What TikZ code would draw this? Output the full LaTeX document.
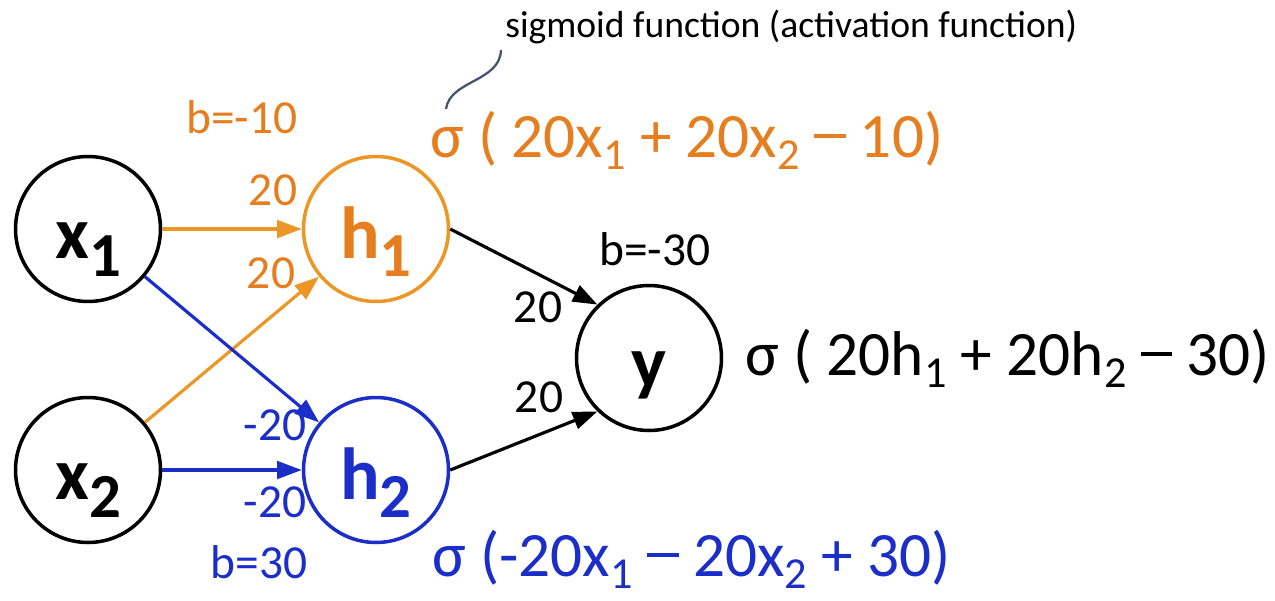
\documentclass[tikz,border=0pt]{standalone}
\usepackage{fontspec}
\usepackage{graphicx}
\usepackage{xcolor}
\usetikzlibrary{arrows.meta}
\setmainfont{Carlito}

\definecolor{hidorange}{RGB}{236,150,38}
\definecolor{txtorange}{RGB}{230,125,30}
\definecolor{hidblue}{RGB}{28,46,200}
\definecolor{noteslate}{RGB}{68,84,106}

\newcommand{\lowidx}[1]{\raisebox{-0.2em}{\scalebox{0.7}{#1}}}
\newcommand{\nodeidx}[1]{\raisebox{-0.24em}{\scalebox{0.85}{#1}}}
\newcommand{\dashop}{\raisebox{0.3em}{\rule{0.5em}{0.065em}}}

\begin{document}
\begin{tikzpicture}[x=0.02cm, y=-0.02cm,
  neuron/.style={circle, draw, line width=2pt, minimum size=2.9cm, inner sep=0pt,
    text height=44pt, text depth=10pt,
    font=\fontsize{42}{44}\selectfont\bfseries},
  weight/.style={anchor=base, inner sep=0pt, font=\fontsize{27}{30}\selectfont},
  formula/.style={anchor=base west, inner sep=0pt, font=\fontsize{36}{40}\selectfont},
  link/.style={line width=1.8pt, -{Triangle[length=14pt,width=10pt]}}]
  \useasboundingbox (0,0) rectangle (1275,600);

  % neurons
  \node[neuron] (x1) at (88,229) {x\nodeidx{1}};
  \node[neuron] (x2) at (88,470) {x\nodeidx{2}};
  \node[neuron, draw=hidorange, text=txtorange] (h1) at (376,229) {h\nodeidx{1}};
  \node[neuron, draw=hidblue, text=hidblue] (h2) at (376,470) {h\nodeidx{2}};
  \node[neuron] (y) at (649,358) {y};

  % connections
  \draw[link, hidorange] (x1) -- (h1);
  \draw[link, hidorange] (x2) -- (h1);
  \draw[link, hidblue] (x1) -- (h2);
  \draw[link, hidblue] (x2) -- (h2);
  \draw[link] (h1.east) -- (y.134);
  \draw[link] (h2.east) -- (y.226);

  % weights and biases
  \node[weight, txtorange] (bh1) at (242,133) {b=-10};
  \node[weight, txtorange] (w11) at (273,205) {20};
  \node[weight, txtorange] (w21) at (271,288) {20};
  \node[weight, hidblue] (w12) at (275,440) {-20};
  \node[weight, hidblue] (w22) at (275,517) {-20};
  \node[weight, hidblue] (bh2) at (259,578) {b=30};
  \node[weight] (by) at (655,265) {b=-30};
  \node[weight] (wy1) at (538,322) {20};
  \node[weight] (wy2) at (539,412) {20};

  % activations
  \node[formula, txtorange] (fh1) at (430,157)
    {σ ( 20x\lowidx{1} + 20x\lowidx{2} \dashop{} 10)};
  \node[formula] (fy) at (745,375)
    {σ ( 20h\lowidx{1} + 20h\lowidx{2} \dashop{} 30)};
  \node[formula, hidblue] (fh2) at (432,576)
    {σ (-20x\lowidx{1} \dashop{} 20x\lowidx{2} + 30)};

  % note on sigma
  \node[anchor=base west, inner sep=0pt, font=\fontsize{21.4}{24}\selectfont] (note) at (505,37)
    {sigmoid function (activation function)};
  \coordinate (nb) at (446,109);
  \coordinate (nt) at (501,50);
  \draw[noteslate, line width=1.3pt] (nb) .. controls (450,80) and (500,82) .. (nt);
\end{tikzpicture}
\end{document}
